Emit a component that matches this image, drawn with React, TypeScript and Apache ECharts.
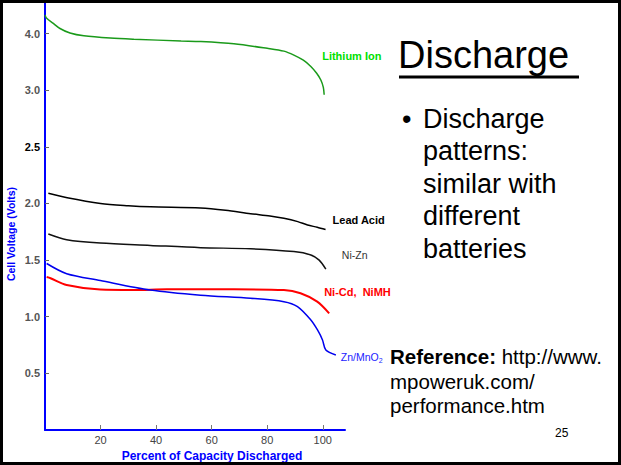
import React, { useEffect, useRef } from "react";
import * as echarts from "echarts";

// ---- data (x: percent of capacity discharged, y: cell voltage in volts) ----
const xTicks = [20, 40, 60, 80, 100];
const yTickVolts = [0.5, 1.0, 1.5, 2.0, 2.5, 3.0, 4.0];

const lithiumIon = [
  [0, 4.33], [0.6, 4.27], [3, 4.18], [5.4, 4.09], [9, 4.01], [14, 3.96], [23.5, 3.92],
  [32, 3.9], [49, 3.87], [56, 3.86], [68, 3.82], [80, 3.74], [86, 3.69], [89.6, 3.62],
  [93, 3.53], [95.7, 3.42], [97.8, 3.3], [99.3, 3.18], [100.2, 3.05], [100.5, 2.96],
];
const leadAcid = [
  [1.2, 2.09], [8, 2.05], [20, 2.0], [30, 1.98], [38, 1.97], [56, 1.96], [65, 1.94],
  [74, 1.91], [81, 1.89], [86, 1.87], [91, 1.84], [94.5, 1.81], [98, 1.79], [101, 1.77],
];
const niZn = [
  [1.2, 1.73], [7.8, 1.68], [19.9, 1.65], [37.9, 1.63], [56, 1.61], [74, 1.6],
  [89.6, 1.575], [95.7, 1.545], [98.7, 1.5], [101.1, 1.42],
];
const niCdNiMH = [
  [0.6, 1.35], [2, 1.34], [7.8, 1.28], [19.9, 1.24], [31.9, 1.236], [43.9, 1.242],
  [68, 1.242], [86, 1.236], [92, 1.207], [98, 1.133], [102.3, 1.03],
];
const znMnO2 = [
  [0.6, 1.47], [7.8, 1.38], [19.9, 1.32], [37.9, 1.236], [56, 1.19], [74, 1.163],
  [86, 1.133], [90.9, 1.089], [95.7, 0.971], [98.1, 0.883], [99.9, 0.795], [101.1, 0.706],
  [104.7, 0.662],
];

const seriesNames = ["Lithium Ion", "Lead Acid", "Ni-Zn", "Ni-Cd,  NiMH", "Zn/MnO{sub|2}"];
const xAxisTitle = "Percent of Capacity Discharged";
const yAxisTitle = "Cell Voltage (Volts)";
const slideTitle = "Discharge";
const bulletLines = ["Discharge", "patterns:", "similar with", "different", "batteries"];
const referenceLines = ["{b|Reference:} http://www.", "mpoweruk.com/", "performance.htm"];
const pageNumber = "25";

// The source figure draws the range above 3.0 V at half scale.
const BREAK = 3.0;
const toAxis = (v: number) => (v > BREAK ? BREAK + (v - BREAK) / 2 : v);
const fromAxis = (d: number) => (d > BREAK + 1e-9 ? BREAK + (d - BREAK) * 2 : d);
const conv = (arr: number[][]) => arr.map(([x, v]) => [x, toAxis(v)]);

const FONT = 'Arial, "Liberation Sans", Helvetica, sans-serif';

export default function App() {
  const ref = useRef<HTMLDivElement>(null);
  useEffect(() => {
    if (!ref.current) return;
    const chart = echarts.init(ref.current, undefined, { renderer: "svg" });
    const lineSeries = (
      name: string,
      data: number[][],
      color: string,
      width: number,
      label: any
    ) => ({
      type: "line",
      name,
      data: conv(data),
      smooth: 0.3,
      symbol: "none",
      showSymbol: false,
      silent: true,
      lineStyle: { color, width },
      endLabel: {
        show: true,
        position: "right",
        distance: 5,
        align: "left",
        verticalAlign: "middle",
        fontFamily: FONT,
        formatter: () => name,
        ...label,
      },
    });

    const bulletGraphics = bulletLines.map((t, i) => ({
      type: "text",
      x: 423,
      y: 118.9 + i * 32.5,
      silent: true,
      style: { text: t, font: `27px ${FONT}`, fill: "#000", verticalAlign: "middle" },
    }));
    const refGraphics = referenceLines.map((t, i) => ({
      type: "text",
      x: 390,
      y: 356.4 + i * 24.7,
      silent: true,
      style: {
        text: t,
        font: `20.5px ${FONT}`,
        fontSize: 20.5,
        fontFamily: FONT,
        fill: "#000",
        verticalAlign: "middle",
        rich: { b: { fontWeight: "bold", fontSize: 20.5, fontFamily: FONT, fill: "#000" } },
      },
    }));

    chart.setOption({
      animation: false,
      backgroundColor: "#fff",
      grid: { left: 45, right: 276, top: 3, bottom: 35, containLabel: false, outerBoundsMode: "none" },
      xAxis: {
        type: "value",
        min: 0,
        max: 108,
        name: xAxisTitle,
        nameLocation: "middle",
        nameGap: 16,
        nameTextStyle: {
          color: "#0000ff",
          fontWeight: "bold",
          fontSize: 12,
          fontFamily: FONT,
          padding: [0, 0, 0, 34],
        },
        axisLine: { show: true, onZero: false, lineStyle: { color: "#0000ff", width: 2 } },
        axisTick: { show: true, inside: true, length: 5, customValues: xTicks, lineStyle: { color: "#777" } },
        axisLabel: { customValues: xTicks, color: "#444", fontSize: 11, margin: 4, fontFamily: FONT },
        splitLine: { show: false },
      },
      yAxis: {
        type: "value",
        min: 0,
        max: 3.77,
        name: yAxisTitle,
        nameLocation: "middle",
        nameRotate: 90,
        nameGap: 29,
        nameTextStyle: {
          color: "#0000ff",
          fontWeight: "bold",
          fontSize: 10.5,
          fontFamily: FONT,
          padding: [0, 35, 0, 0],
        },
        axisLine: { show: true, onZero: false, lineStyle: { color: "#0000ff", width: 2 } },
        axisTick: {
          show: true,
          inside: true,
          length: 4,
          customValues: yTickVolts.map(toAxis),
          lineStyle: { color: "#666" },
        },
        axisLabel: {
          customValues: yTickVolts.map(toAxis),
          color: "#555",
          fontWeight: "bold",
          fontSize: 11,
          margin: 5,
          fontFamily: FONT,
          formatter: (d: number) => {
            const v = fromAxis(d);
            const s = v.toFixed(1);
            return Math.abs(v - 2.5) < 1e-6 ? `{k|${s}}` : s;
          },
          rich: { k: { color: "#000", fontWeight: "bold", fontSize: 11, fontFamily: FONT } },
        },
        splitLine: { show: false },
      },
      series: [
        lineSeries(seriesNames[0], lithiumIon, "#1a9a1a", 1.5, {
          color: "#00e000", fontWeight: "bold", fontSize: 11, offset: [-7, -39],
        }),
        lineSeries(seriesNames[1], leadAcid, "#000", 1.5, {
          color: "#000", fontWeight: "bold", fontSize: 11, offset: [2, -10],
        }),
        lineSeries(seriesNames[2], niZn, "#111", 1.5, {
          color: "#333", fontSize: 10.5, offset: [11, -14],
        }),
        lineSeries(seriesNames[3], niCdNiMH, "#ff0000", 2, {
          color: "#ff0000", fontWeight: "bold", fontSize: 11, offset: [-10, -21],
        }),
        lineSeries(seriesNames[4], znMnO2, "#0000ee", 1.5, {
          color: "#2222ff", fontSize: 10.5, offset: [0, 2],
          rich: { sub: { fontSize: 7, color: "#2222ff", padding: [6, 0, 0, 0], fontFamily: FONT } },
        }),
      ],
      graphic: [
        {
          type: "rect",
          silent: true,
          shape: { x: 1.5, y: 1.5, width: 618, height: 462 },
          style: { fill: "none", stroke: "#000", lineWidth: 3 },
          z: 100,
        },
        {
          type: "text",
          x: 398,
          y: 55,
          silent: true,
          style: { text: slideTitle, font: `38px ${FONT}`, fill: "#000", verticalAlign: "middle" },
        },
        {
          type: "rect",
          silent: true,
          shape: { x: 399, y: 75.5, width: 180, height: 3 },
          style: { fill: "#000" },
        },
        {
          type: "text",
          x: 402,
          y: 118.9,
          silent: true,
          style: { text: "•", font: `27px ${FONT}`, fill: "#000", verticalAlign: "middle" },
        },
        ...bulletGraphics,
        ...refGraphics,
        {
          type: "text",
          x: 555,
          y: 432.7,
          silent: true,
          style: { text: pageNumber, font: `12px ${FONT}`, fill: "#000", verticalAlign: "middle" },
        },
      ],
    });
    return () => chart.dispose();
  }, []);

  return (
    <div
      ref={ref}
      style={{ position: "fixed", left: 0, top: 0, width: 621, height: 465, background: "#fff" }}
    />
  );
}
